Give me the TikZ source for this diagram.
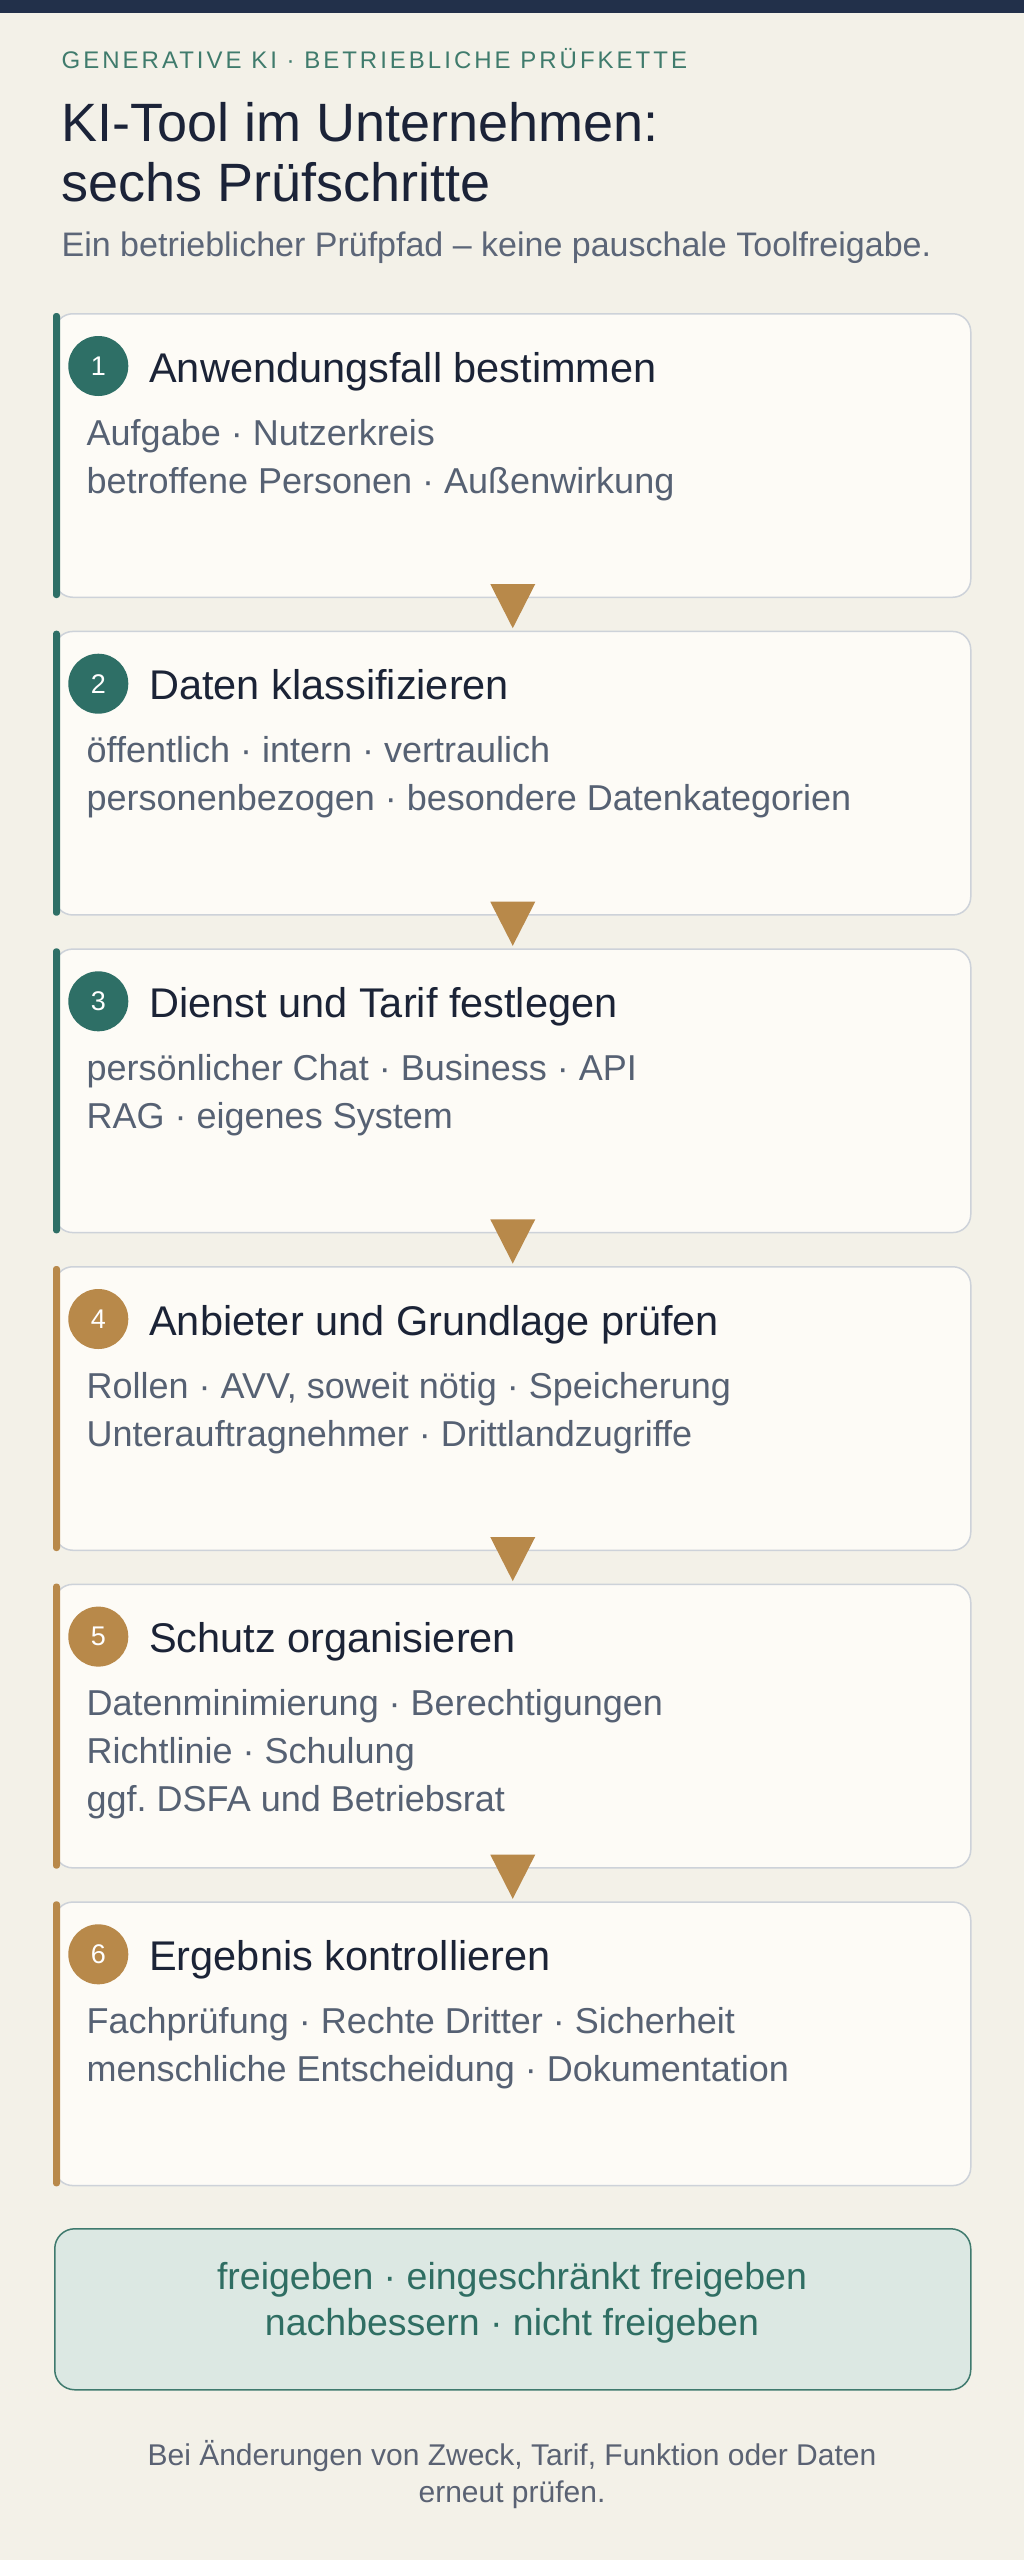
\documentclass[tikz,border=0pt]{standalone}
\usepackage{fontspec}
\setmainfont{Liberation Sans}
\newfontfamily\eyebrowfont[LetterSpace=12.5]{Liberation Sans}
\usetikzlibrary{calc}
\frenchspacing
\definecolor{bg}{HTML}{F3F1E8}
\definecolor{topbar}{HTML}{22304A}
\definecolor{eyebrow}{HTML}{3F7B6C}
\definecolor{titlec}{HTML}{1B2338}
\definecolor{subc}{HTML}{5C6678}
\definecolor{cardfill}{HTML}{FDFBF6}
\definecolor{cardline}{HTML}{CDD2D9}
\definecolor{tealc}{HTML}{2E6F66}
\definecolor{goldc}{HTML}{B8894A}
\definecolor{headc}{HTML}{1B2336}
\definecolor{bodyc}{HTML}{566173}
\definecolor{outfill}{HTML}{DCE8E3}
\definecolor{outline}{HTML}{3F7A6E}
\definecolor{outtext}{HTML}{2F6E63}
\definecolor{footc}{HTML}{5A6273}
\newcommand{\stepcardbox}[5]{%
  \node[card] (c#1) at (54,#2) {};
  \fill[#3, rounded corners=3pt] ($(c#1.north west)+(-1,0)$) rectangle ($(c#1.south west)+(6,0)$);
  \node[numcirc, fill=#3] (n#1) at ($(c#1.north west)+(44.3,53)$) {#4};
  \node[head] (h#1) at ($(c#1.north west)+(95.3,69)$) {#5};
}
\newcommand{\flowtri}[2]{%
  \fill[goldc] ($(c#1.south)+(-22.5,-14)$) -- ($(c#1.south)+(22.5,-14)$) -- ($(c#2.north)+(0,-2.5)$) -- cycle;
}
\begin{document}
\begin{tikzpicture}[x=1pt,y=-1pt,
  txt/.style={inner sep=0pt, outer sep=0pt, anchor=base west},
  card/.style={draw=cardline, line width=1.5pt, fill=cardfill, rounded corners=18pt,
    minimum width=916pt, minimum height=283.5pt, anchor=north west, inner sep=0pt},
  numcirc/.style={circle, minimum size=60pt, inner sep=0pt, text=white,
    font=\fontsize{27}{27}\selectfont},
  head/.style={txt, text=headc, font=\fontsize{41.5}{49}\selectfont},
  bodyl/.style={txt, text=bodyc, font=\fontsize{36}{48}\selectfont},
  outl/.style={inner sep=0pt, anchor=base, text=outtext, font=\fontsize{37.5}{46}\selectfont},
  footl/.style={inner sep=0pt, anchor=base, text=footc, font=\fontsize{30}{37}\selectfont}
]
\useasboundingbox (0,0) rectangle (1024,2560);
\fill[bg] (0,0) rectangle (1024,2560);
\fill[topbar] (0,0) rectangle (1024,13);

% header
\node[txt, text=eyebrow, font=\eyebrowfont\fontsize{24}{28}\selectfont] (eyebrow) at (61.7,68.3) {GENERATIVE KI · BETRIEBLICHE PRÜFKETTE};
\node[txt, text=titlec, font=\fontsize{54}{60}\selectfont] (title1) at (61.7,141.7) {KI-Tool im Unternehmen:};
\node[txt, text=titlec, font=\fontsize{54}{60}\selectfont] (title2) at (61.7,201.7) {sechs Prüfschritte};
\node[txt, text=subc, font=\fontsize{34}{40}\selectfont] (sub) at (61.7,256.7) {Ein betrieblicher Prüfpfad – keine pauschale Toolfreigabe.};

% cards
\stepcardbox{1}{313}{tealc}{1}{Anwendungsfall bestimmen}
\node[bodyl] (b1a) at ($(c1.north west)+(32.7,132)$) {Aufgabe · Nutzerkreis};
\node[bodyl] (b1b) at ($(c1.north west)+(32.7,180)$) {betroffene Personen · Außenwirkung};

\stepcardbox{2}{630.7}{tealc}{2}{Daten klassifizieren}
\node[bodyl] (b2a) at ($(c2.north west)+(32.7,132)$) {öffentlich · intern · vertraulich};
\node[bodyl] (b2b) at ($(c2.north west)+(32.7,180)$) {personenbezogen · besondere Datenkategorien};

\stepcardbox{3}{948.3}{tealc}{3}{Dienst und Tarif festlegen}
\node[bodyl] (b3a) at ($(c3.north west)+(32.7,132)$) {persönlicher Chat · Business · API};
\node[bodyl] (b3b) at ($(c3.north west)+(32.7,180)$) {RAG · eigenes System};

\stepcardbox{4}{1266}{goldc}{4}{Anbieter und Grundlage prüfen}
\node[bodyl] (b4a) at ($(c4.north west)+(32.7,132)$) {Rollen · AVV, soweit nötig · Speicherung};
\node[bodyl] (b4b) at ($(c4.north west)+(32.7,180)$) {Unterauftragnehmer · Drittlandzugriffe};

\stepcardbox{5}{1583.6}{goldc}{5}{Schutz organisieren}
\node[bodyl] (b5a) at ($(c5.north west)+(32.7,132)$) {Datenminimierung · Berechtigungen};
\node[bodyl] (b5b) at ($(c5.north west)+(32.7,180)$) {Richtlinie · Schulung};
\node[bodyl] (b5c) at ($(c5.north west)+(32.7,228)$) {ggf. DSFA und Betriebsrat};

\stepcardbox{6}{1901.3}{goldc}{6}{Ergebnis kontrollieren}
\node[bodyl] (b6a) at ($(c6.north west)+(32.7,132)$) {Fachprüfung · Rechte Dritter · Sicherheit};
\node[bodyl] (b6b) at ($(c6.north west)+(32.7,180)$) {menschliche Entscheidung · Dokumentation};

% connectors
\flowtri{1}{2}
\flowtri{2}{3}
\flowtri{3}{4}
\flowtri{4}{5}
\flowtri{5}{6}

% outcome
\node[draw=outline, line width=1.5pt, fill=outfill, rounded corners=20pt,
  minimum width=916pt, minimum height=161pt, anchor=north west, inner sep=0pt] (out) at (54,2228) {};
\node[outl] (o1) at (512,2289.3) {freigeben · eingeschränkt freigeben};
\node[outl] (o2) at (512,2335) {nachbessern · nicht freigeben};

% footer
\node[footl] (f1) at (512,2465) {Bei Änderungen von Zweck, Tarif, Funktion oder Daten};
\node[footl] (f2) at (512,2502) {erneut prüfen.};
\end{tikzpicture}
\end{document}
